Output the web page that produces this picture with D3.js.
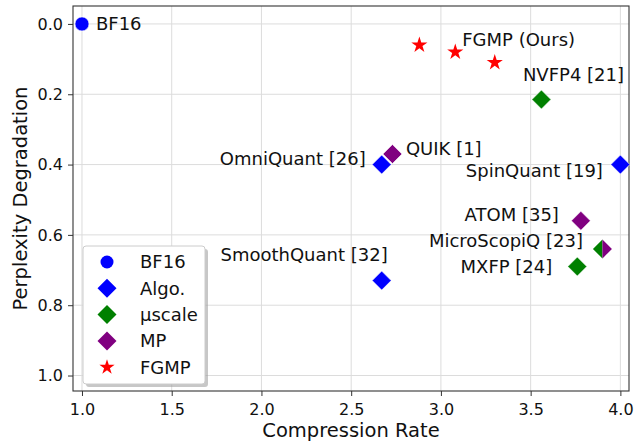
<!DOCTYPE html>
<html><head><meta charset="utf-8">
<script src="https://cdn.jsdelivr.net/npm/d3@7"></script>
<style>body{margin:0;background:#fff}svg{display:block}text{font-family:"DejaVu Sans",sans-serif}</style>
</head><body><svg id="c" width="644" height="443"></svg>
<script>
// ---- data ----
const names = ["BF16","FGMP (Ours)","FGMP (Ours)","FGMP (Ours)","NVFP4 [21]","QUIK [1]","OmniQuant [26]","SpinQuant [19]","SmoothQuant [32]","ATOM [35]","MicroScopiQ [23]","MXFP [24]"];
const groups = ["BF16","FGMP","FGMP","FGMP","µscale","MP","Algo.","Algo.","Algo.","MP","µscale+MP","µscale"];
const compression = [1.0,2.88,3.08,3.30,3.56,2.73,2.67,4.0,2.67,3.78,3.90,3.76];
const degradation = [0.0,0.06,0.08,0.11,0.215,0.37,0.40,0.40,0.73,0.56,0.64,0.69];
const showLabel = [true,false,true,false,true,true,true,true,true,true,true,true];
const xTicks = [1.0,1.5,2.0,2.5,3.0,3.5,4.0];
const yTicks = [0.0,0.2,0.4,0.6,0.8,1.0];
const legendItems = ["BF16","Algo.","µscale","MP","FGMP"];

// ---- styles ----
const colors = {"BF16":"#0000ff","Algo.":"#0000ff","µscale":"#008000","MP":"#800080","FGMP":"#ff0000"};
const shapes = {"BF16":"circle","Algo.":"diamond","µscale":"diamond","MP":"diamond","FGMP":"star"};
// label offsets in px relative to point: [dx, dy, anchor]
const labelOffsets = [[14,0,"start"],[0,0,"start"],[7,-12,"start"],[0,0,"start"],[-18.5,-25,"start"],[13.5,-5.5,"start"],[-16,-5.5,"end"],[-17.5,6.5,"end"],[6,-25.5,"end"],[-22,-6.5,"end"],[-19.5,-8.5,"end"],[-25,0.5,"end"]];

const svg = d3.select("#c");
const L=73,R=629,T=6,B=391;
const x = d3.scaleLinear().domain([0.95,4.048]).range([L,R]);
const y = d3.scaleLinear().domain([-0.051,1.044]).range([T,B]);

// grid
svg.append("g").selectAll("line").data(xTicks).join("line")
  .attr("x1",d=>x(d)).attr("x2",d=>x(d)).attr("y1",T).attr("y2",B)
  .attr("stroke","#dcdcdc").attr("stroke-width",1);
svg.append("g").selectAll("line").data(yTicks).join("line")
  .attr("y1",d=>y(d)).attr("y2",d=>y(d)).attr("x1",L).attr("x2",R)
  .attr("stroke","#dcdcdc").attr("stroke-width",1);

// axes
const xa = svg.append("g").attr("transform",`translate(0,${B})`)
  .call(d3.axisBottom(x).tickValues(xTicks).tickFormat(d3.format(".1f")).tickSize(5).tickPadding(5));
const ya = svg.append("g").attr("transform",`translate(${L},0)`)
  .call(d3.axisLeft(y).tickValues(yTicks).tickFormat(d3.format(".1f")).tickSize(5).tickPadding(5));
[xa,ya].forEach(a=>{a.select(".domain").remove();
  a.selectAll("text").attr("font-size",16).attr("fill","#111").attr("font-family","DejaVu Sans");
  a.selectAll("line").attr("stroke","#333");});
xa.selectAll("text").attr("dy","0.9em");
svg.append("rect").attr("x",L).attr("y",T).attr("width",R-L).attr("height",B-T)
  .attr("fill","none").attr("stroke","#333").attr("stroke-width",1.1);

// axis labels
svg.append("text").attr("x",(L+R)/2).attr("y",437).attr("text-anchor","middle")
  .attr("font-size",19.5).attr("fill","#111").text("Compression Rate");
svg.append("text").attr("transform",`translate(27,${(T+B)/2}) rotate(-90)`).attr("text-anchor","middle")
  .attr("font-size",19.5).attr("fill","#111").text("Perplexity Degradation");

// marker paths
function starPath(r){const ri=r*0.382;let p="";for(let i=0;i<10;i++){const a=-Math.PI/2+i*Math.PI/5;const rr=i%2?ri:r;p+=(i?"L":"M")+(rr*Math.cos(a)).toFixed(2)+","+(rr*Math.sin(a)).toFixed(2);}return p+"Z";}
function diamond(h){return `M0,${-h}L${h},0L0,${h}L${-h},0Z`;}
function circle(r){return `M${r},0A${r},${r} 0 1,1 ${-r},0A${r},${r} 0 1,1 ${r},0Z`;}
function markerPath(shape){return shape==="circle"?circle(7):shape==="star"?starPath(8.5):diamond(9.5);}

const plot = svg.append("g");
const pts = names.map((n,i)=>({n,g:groups[i],cx:x(compression[i]),cy:y(degradation[i]),i}));
pts.forEach(p=>{
  const g = plot.append("g").attr("transform",`translate(${p.cx},${p.cy})`);
  if(p.g==="µscale+MP"){
    g.append("path").attr("d","M0,-9.5L0,9.5L-9.5,0Z").attr("fill",colors["µscale"]);
    g.append("path").attr("d","M0,-9.5L9.5,0L0,9.5Z").attr("fill",colors["MP"]);
  } else {
    g.append("path").attr("d",markerPath(shapes[p.g])).attr("fill",colors[p.g])
      .attr("stroke",p.g==="FGMP"?"none":"#fff").attr("stroke-width",p.g==="FGMP"?0:0.6);
  }
});
// labels
pts.forEach(p=>{
  if(!showLabel[p.i]) return;
  const o = labelOffsets[p.i];
  svg.append("text").attr("x",p.cx+o[0]).attr("y",p.cy+o[1]).attr("dy","0.35em")
    .attr("text-anchor",o[2]).attr("font-size",18).attr("fill","#111").text(p.n);
});

// legend
const lx=83,ly=246,lw=122,lh=138;
svg.append("rect").attr("x",lx+3).attr("y",ly+3).attr("width",lw).attr("height",lh).attr("rx",3)
  .attr("fill","#999").attr("opacity",0.55);
svg.append("rect").attr("x",lx).attr("y",ly).attr("width",lw).attr("height",lh).attr("rx",3)
  .attr("fill","#fff").attr("stroke","#ccc").attr("stroke-width",1);
const lg = svg.append("g");
legendItems.forEach((k,i)=>{
  const yy = ly+16+i*26.3;
  const s = shapes[k];
  lg.append("path").attr("transform",`translate(107,${yy})`)
    .attr("d",s==="circle"?circle(6.5):s==="star"?starPath(8):diamond(9.5)).attr("fill",colors[k]);
  lg.append("text").attr("x",140).attr("y",yy).attr("dy","0.35em").attr("font-size",18).attr("fill","#111").text(k);
});
</script></body></html>
